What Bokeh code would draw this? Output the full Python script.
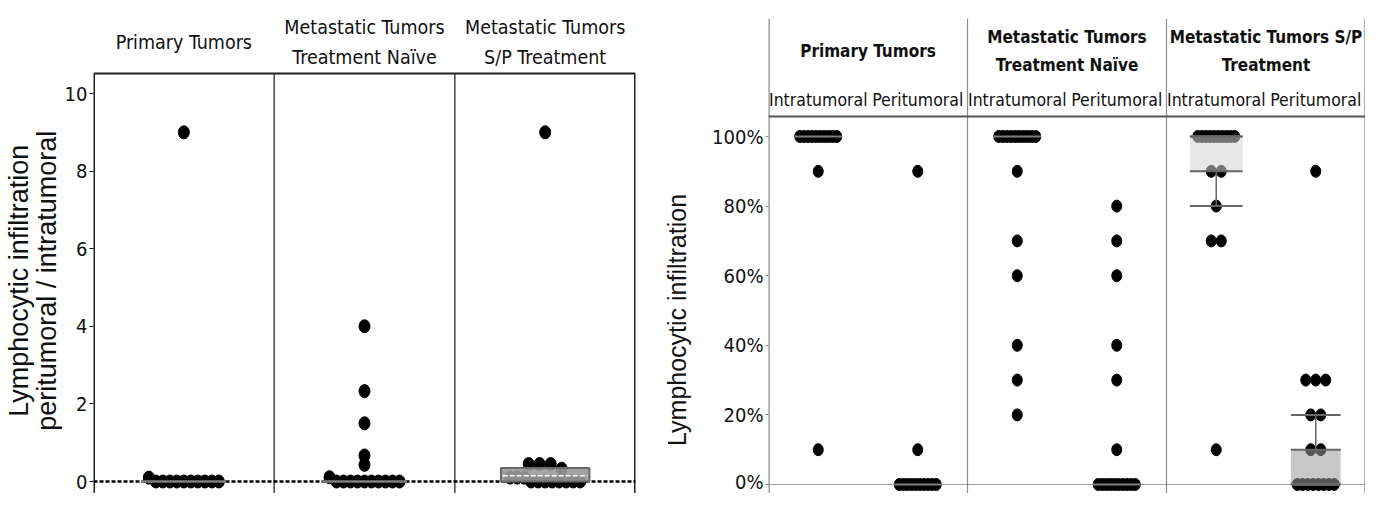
import numpy as np
from bokeh.plotting import figure
from bokeh.layouts import row
from bokeh.models import Range1d, FixedTicker, PrintfTickFormatter
from bokeh.core.properties import value
from bokeh.embed import file_html
from bokeh.resources import INLINE

# ---------------- data: left chart (ratio peritumoral / intratumoral) ----------------
left_groups = ["Primary Tumors", "Metastatic Tumors\nTreatment Naïve", "Metastatic Tumors\nS/P Treatment"]
left_primary = [9, 0.1, 0, 0, 0, 0, 0, 0, 0, 0, 0, 0]
left_naive = [4, 2.33, 1.5, 0.67, 0.43, 0.11, 0, 0, 0, 0, 0, 0, 0, 0, 0, 0]
left_sp = [9, 0.45, 0.45, 0.45, 0.33, 0.1, 0.1, 0.1, 0, 0, 0, 0, 0, 0, 0, 0]
left_median = [0, 0, 0.15]
left_sp_box = [0.0, 0.35]          # q1, q3 of the S/P box
left_ticks = [0, 2, 4, 6, 8, 10]
left_ylabel = ["Lymphocytic infiltration", "peritumoral / intratumoral"]

# ---------------- data: right chart (lymphocytic infiltration, %) ----------------
right_groups = ["Primary Tumors", "Metastatic Tumors\nTreatment Naïve", "Metastatic Tumors S/P\nTreatment"]
right_sub = ["Intratumoral", "Peritumoral"]
primary_intra = [100, 100, 100, 100, 100, 100, 100, 100, 100, 100, 90, 10]
primary_peri = [90, 10, 0, 0, 0, 0, 0, 0, 0, 0, 0, 0]
naive_intra = [100, 100, 100, 100, 100, 100, 100, 100, 100, 100, 90, 70, 60, 40, 30, 20]
naive_peri = [80, 70, 60, 40, 30, 10, 0, 0, 0, 0, 0, 0, 0, 0, 0, 0]
sp_intra = [100, 100, 100, 100, 100, 100, 100, 100, 100, 100, 90, 90, 80, 70, 70, 10]
sp_peri = [90, 30, 30, 30, 20, 20, 10, 10, 0, 0, 0, 0, 0, 0, 0, 0]
right_median = [100, 0, 100, 0, 100, 0]
sp_box_q1 = [90, 0]
sp_box_q3 = [100, 10]
sp_whisk_lo = [80, 0]
sp_whisk_hi = [100, 20]
right_ticks = [0, 20, 40, 60, 80, 100]
right_ylabel = "Lymphocytic infiltration"

HF = "DejaVu Sans Condensed, Liberation Sans"
SANS = "Liberation Sans"
NB = "\u00a0"
H = 493

# ---------------- helpers ----------------
def swarm(vals, center, px_x, px_y, dot_w, dot_h, max_span):
    order = sorted(range(len(vals)), key=lambda i: -vals[i])
    groups = []
    for i in order:
        if groups and abs(vals[groups[-1][0]] - vals[i]) * px_y <= 0.6 * dot_h:
            groups[-1].append(i)
        else:
            groups.append([i])
    xs = [0.0] * len(vals)
    for g in groups:
        k = len(g)
        step = dot_w if k < 2 else min(dot_w, max_span / (k - 1))
        for j, i in enumerate(g):
            xs[i] = center + (j - (k - 1) / 2) * step / px_x
    return xs

def style_axis(ax, tick_color, tick_out):
    ax.axis_line_color = None
    ax.major_tick_out = tick_out
    ax.major_tick_in = 0
    ax.minor_tick_line_color = None
    ax.major_tick_line_color = tick_color
    ax.major_label_standoff = 2
    ax.major_label_text_font = HF
    ax.major_label_text_font_size = "20px"
    ax.major_label_text_color = "#111111"
    ax.axis_label_text_font = SANS
    ax.axis_label_text_font_size = "25px"
    ax.axis_label_text_font_style = "normal"
    ax.axis_label_text_color = "#111111"

# ================= LEFT FIGURE =================
LW, LBL, LBR = 650, 93, 15
L_FRAME = LW - LBL - LBR
L_PXX = L_FRAME / 3.0
L_PXY = 38.8
L_ZERO = 481.0
def ly(c):
    return (L_ZERO - c) / L_PXY

p1 = figure(width=LW, height=H, output_backend="svg", toolbar_location=None,
            x_range=Range1d(0, 3), y_range=Range1d(ly(H), ly(0)),
            x_axis_location=None, min_border_left=LBL, min_border_right=LBR,
            min_border_top=0, min_border_bottom=0)
p1.outline_line_color = None
p1.grid.visible = False

ya = p1.yaxis[0]
ya.ticker = FixedTicker(ticks=left_ticks)
style_axis(ya, "#111111", 4)
ya.axis_label = "\n".join(t + NB * 9 for t in left_ylabel)
ya.axis_label_text_font_size = "27px"
ya.axis_label_text_line_height = 0.93
ya.axis_label_standoff = 0

top_l = ly(73)
bot_l = ly(H)
p1.segment(x0=[1, 2], y0=[bot_l, bot_l], x1=[1, 2], y1=[top_l, top_l], line_color="#444444", line_width=1.5)
p1.segment(x0=[0, 3], y0=[bot_l, bot_l], x1=[0, 3], y1=[top_l, top_l], line_color="#222222", line_width=3)
p1.segment(x0=[0], y0=[top_l], x1=[3], y1=[top_l], line_color="#222222", line_width=2)
p1.segment(x0=[0], y0=[0], x1=[3], y1=[0], line_color="black", line_width=2.5, line_dash="4 2")

for gi, vals in enumerate([left_primary, left_naive, left_sp]):
    c = gi + 0.5
    xs = swarm(vals, c, L_PXX, L_PXY, 11, 13, 70)
    p1.ellipse(x=xs, y=vals, width=11, height=13, width_units="screen", height_units="screen",
               fill_color="black", line_color="black")

p1.quad(left=[2.5 - 0.245], right=[2.5 + 0.245], bottom=[left_sp_box[0]], top=[left_sp_box[1]],
        fill_color="#9a9a9a", fill_alpha=0.9, line_color="#6b6b6b", line_width=2)
for gi, m in enumerate(left_median):
    c = gi + 0.5
    if gi < 2:
        p1.segment(x0=[c - 0.235], y0=[m], x1=[c + 0.235], y1=[m], line_color="#7f7f7f", line_width=2.5)
    else:
        p1.segment(x0=[c - 0.235], y0=[m], x1=[c + 0.235], y1=[m], line_color="white", line_width=1.5,
                   line_dash="5 2")

p1.text(x=[0.5, 1.5, 2.5], y=[ly(42)] * 3, text=left_groups, text_font=value(HF),
        text_font_size="19.5px", text_align="center", text_baseline="middle", text_color="#111111",
        text_line_height=1.3)

# ================= RIGHT FIGURE =================
RW, RBL, RBR = 715, 118, 0
R_FRAME = RW - RBL - RBR
R_PXX = R_FRAME / 6.0
R_PXY = 3.48
R_ZERO = 484.0
def ry(c):
    return (R_ZERO - c) / R_PXY

p2 = figure(width=RW, height=H, output_backend="svg", toolbar_location=None,
            x_range=Range1d(0, 6), y_range=Range1d(ry(H), ry(0)),
            x_axis_location=None, min_border_left=RBL, min_border_right=RBR,
            min_border_top=0, min_border_bottom=0)
p2.outline_line_color = None
p2.grid.visible = False

ra = p2.yaxis[0]
ra.ticker = FixedTicker(ticks=right_ticks)
ra.formatter = PrintfTickFormatter(format="%d%%")
style_axis(ra, "#888888", 3)
ra.axis_label = right_ylabel + NB * 21
ra.axis_label_standoff = 18

top_r = ry(18)
bot_r = ry(H)
p2.segment(x0=[2, 4], y0=[bot_r] * 2, x1=[2, 4], y1=[top_r] * 2, line_color="#8c8c8c", line_width=1.2)
p2.segment(x0=[0, 6], y0=[bot_r] * 2, x1=[0, 6], y1=[top_r] * 2, line_color="#8c8c8c", line_width=2.4)
p2.segment(x0=[0], y0=[ry(116)], x1=[6], y1=[ry(116)], line_color="#555555", line_width=2)
p2.segment(x0=[0], y0=[0], x1=[6], y1=[0], line_color="#444444", line_width=1, line_dash="1 1")

right_series = [primary_intra, primary_peri, naive_intra, naive_peri, sp_intra, sp_peri]
for ci, vals in enumerate(right_series):
    c = ci + 0.5
    xs = swarm(vals, c, R_PXX, R_PXY, 10, 12, 37)
    p2.ellipse(x=xs, y=vals, width=10, height=12, width_units="screen", height_units="screen",
               fill_color="black", line_color="black")

for ci, m in enumerate(right_median):
    c = ci + 0.5
    p2.segment(x0=[c - 0.24], y0=[m], x1=[c + 0.24], y1=[m], line_color="#7f7f7f", line_width=2)

box_cols = [4.5, 5.5]
box_fill = ["#d4d4d4", "#9a9a9a"]
for bi, c in enumerate(box_cols):
    hw = 0.265 if bi == 0 else 0.25
    p2.quad(left=[c - hw], right=[c + hw], bottom=[sp_box_q1[bi]], top=[sp_box_q3[bi]],
            fill_color=box_fill[bi], fill_alpha=0.55, line_color=None)
    p2.segment(x0=[c - hw, c - hw], y0=[sp_box_q1[bi], sp_box_q3[bi]], x1=[c + hw, c + hw],
               y1=[sp_box_q1[bi], sp_box_q3[bi]], line_color="#666666", line_width=2)
    lo_w, hi_w = sp_whisk_lo[bi], sp_whisk_hi[bi]
    p2.segment(x0=[c, c], y0=[sp_box_q1[bi], sp_box_q3[bi]], x1=[c, c], y1=[lo_w, hi_w],
               line_color="#666666", line_width=1.5)
    p2.segment(x0=[c - hw, c - hw], y0=[lo_w, hi_w], x1=[c + hw, c + hw], y1=[lo_w, hi_w],
               line_color="#666666", line_width=2)

p2.text(x=[1, 3, 5], y=[ry(50)] * 3, text=right_groups, text_font=value(HF),
        text_font_size="17px", text_font_style="bold", text_align="center", text_baseline="middle",
        text_color="#111111", text_line_height=1.4)
sub_x = [0.5, 1.5, 2.5, 3.5, 4.5, 5.5]
sub_t = [right_sub[i % 2] for i in range(6)]
p2.text(x=sub_x, y=[ry(99)] * 6, text=sub_t, text_font=value(HF), text_font_size="17.5px",
        text_align="center", text_baseline="middle", text_color="#111111")

layout = row(p1, p2)
open("out.html", "w").write(file_html(layout, INLINE))
